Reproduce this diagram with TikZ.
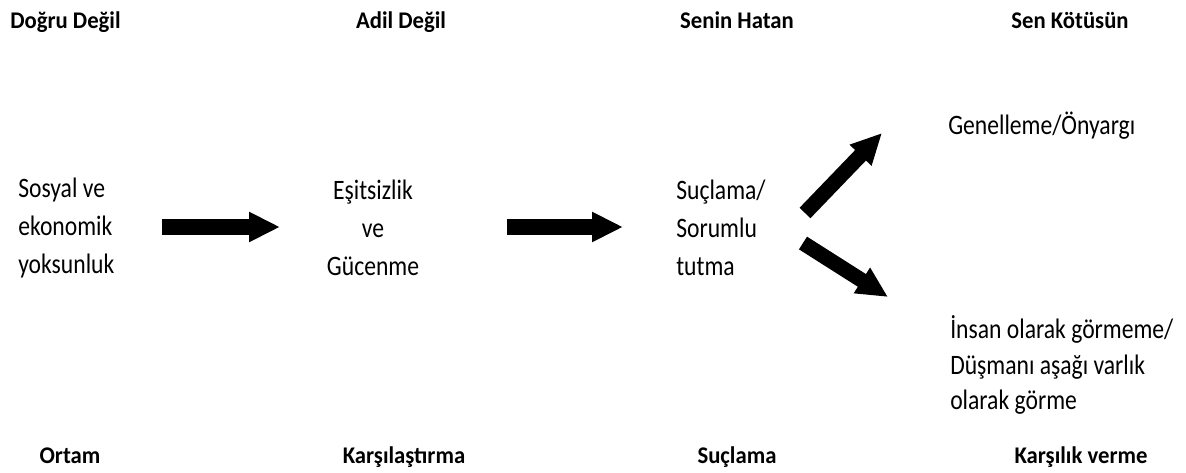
\documentclass[tikz,border=0pt]{standalone}
\usepackage{fontspec}
\setmainfont{Carlito}
\newfontfamily\headfont[FakeStretch=0.95]{Carlito}
\newfontfamily\bodyfont[FakeStretch=0.84]{Carlito}
\usetikzlibrary{arrows.meta}
\tikzset{
  head/.style = {font=\headfont\bfseries\fontsize{17}{20}\selectfont, inner sep=0pt, anchor=base},
  body/.style = {font=\bodyfont\fontsize{20}{27}\selectfont, inner sep=0pt, align=left},
  fatarrow/.style = {line width=10.7pt, -{Triangle[length=22pt, width=20pt]}},
}

\begin{document}
\begin{tikzpicture}[x=0.025cm, y=-0.025cm]
\useasboundingbox (0,0) rectangle (1186,473);
% column titles
\node [head, anchor=base west] (t1) at (10,29) {Doğru Değil};
\node [head] (t2) at (401,29) {Adil Değil};
\node [head] (t3) at (737,29) {Senin Hatan};
\node [head] (t4) at (1070,29) {Sen Kötüsün};
% stages
\node [head] (b1) at (70,463) {Ortam};
\node [head] (b2) at (404,463) {Karşılaştırma};
\node [head] (b3) at (737,463) {Suçlama};
\node [head] (b4) at (1081,463) {Karşılık verme};
% contents
\node [body, anchor=west] (sosyal) at (18,228) {Sosyal ve\\ekonomik\\yoksunluk};
\node [body, align=center] (esit) at (373,228) {Eşitsizlik\\ve\\Gücenme};
\node [body, anchor=west] (sucl) at (676,228) {Suçlama/\\Sorumlu\\tutma};
\node [body, anchor=west] (genel) at (948,126) {Genelleme/Önyargı};
\node [body, anchor=west, font=\bodyfont\fontsize{20}{25}\selectfont] (insan) at (950,365)
  {İnsan olarak görmeme/\\Düşmanı aşağı varlık\\olarak görme};
% arrows
\coordinate (a1) at (162,227);
\coordinate (a2) at (280,227);
\coordinate (a3) at (507,227);
\coordinate (a4) at (623,227);
\coordinate (a5) at (805,213);
\coordinate (a6) at (882,133);
\coordinate (a7) at (803,243);
\coordinate (a8) at (888,297);
\draw [fatarrow] (a1) -- (a2);
\draw [fatarrow] (a3) -- (a4);
\draw [fatarrow] (a5) -- (a6);
\draw [fatarrow] (a7) -- (a8);
\end{tikzpicture}
\end{document}
